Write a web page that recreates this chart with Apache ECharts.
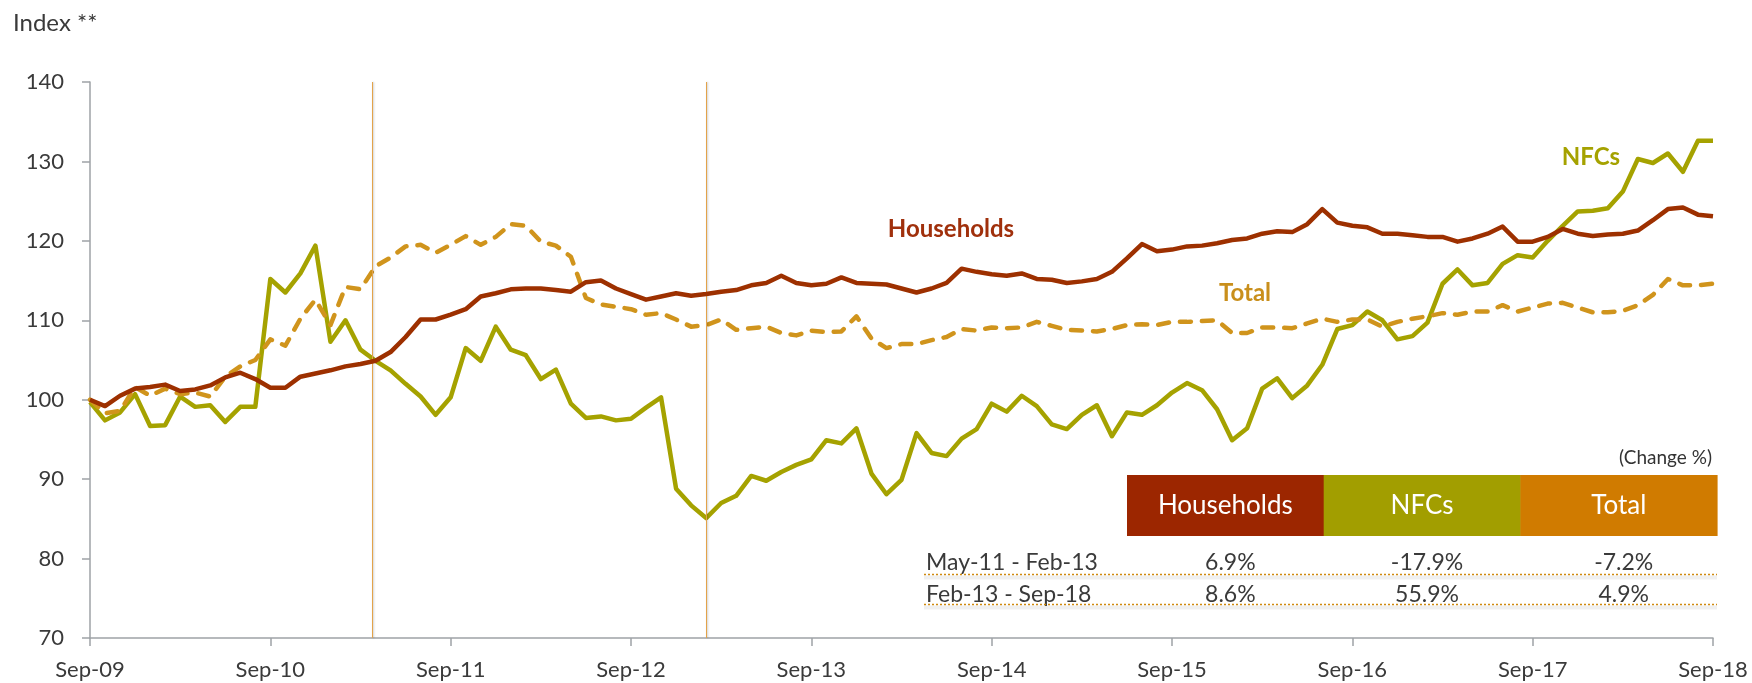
<!DOCTYPE html>
<html>
<head>
<meta charset="utf-8">
<script src="https://cdn.jsdelivr.net/npm/echarts@6/dist/echarts.min.js"></script>
<style>
html,body{margin:0;padding:0;background:#ffffff;}
#chart{width:1752px;height:683px;}
</style>
</head>
<body>
<div id="chart"></div>
<script>
// ---- Data (monthly index, Sep-09 = 100) ----
const tickLabels = ['Sep-09','Sep-10','Sep-11','Sep-12','Sep-13','Sep-14','Sep-15','Sep-16','Sep-17','Sep-18'];

const households = [
  100.0, 99.2,100.5,101.4,101.6,101.9,101.1,101.3,101.8,102.8,103.4,102.6,
  101.5,101.5,102.9,103.3,103.7,104.2,104.5,104.9,106.0,107.9,110.1,110.1,
  110.7,111.4,113.0,113.4,113.9,114.0,114.0,113.8,113.6,114.8,115.0,114.0,
  113.3,112.6,113.0,113.4,113.1,113.3,113.6,113.8,114.4,114.7,115.6,114.7,
  114.4,114.6,115.4,114.7,114.6,114.5,114.0,113.5,114.0,114.7,116.5,116.1,
  115.8,115.6,115.9,115.2,115.1,114.7,114.9,115.2,116.1,117.8,119.6,118.7,
  118.9,119.3,119.4,119.7,120.1,120.3,120.9,121.2,121.1,122.1,124.0,122.3,
  121.9,121.7,120.9,120.9,120.7,120.5,120.5,119.9,120.3,120.9,121.8,119.9,
  119.9,120.5,121.5,120.9,120.6,120.8,120.9,121.3,122.6,124.0,124.2,123.3,
  123.1
];

const nfcs = [
   99.7, 97.4, 98.4,100.7, 96.7, 96.8,100.4, 99.1, 99.3, 97.2, 99.1, 99.1,
  115.2,113.5,115.9,119.4,107.3,110.0,106.3,104.9,103.7,102.0,100.4, 98.1,
  100.3,106.5,104.9,109.2,106.3,105.6,102.6,103.8, 99.5, 97.7, 97.9, 97.4,
   97.6, 99.0,100.3, 88.8, 86.7, 85.1, 87.0, 87.9, 90.4, 89.8, 90.9, 91.8,
   92.5, 94.9, 94.5, 96.4, 90.7, 88.1, 89.9, 95.8, 93.3, 92.9, 95.1, 96.3,
   99.5, 98.5,100.5, 99.2, 96.9, 96.3, 98.1, 99.3, 95.4, 98.4, 98.1, 99.3,
  100.9,102.1,101.2, 98.8, 94.9, 96.4,101.4,102.7,100.2,101.8,104.4,108.9,
  109.4,111.1,110.0,107.6,108.0,109.7,114.6,116.4,114.4,114.7,117.1,118.2,
  117.9,120.0,121.9,123.7,123.8,124.1,126.2,130.3,129.8,131.0,128.7,132.6,
  132.6
];

const total = [
  100.0, 98.3, 98.6,101.6,100.5,101.4,100.7,100.9,100.4,102.9,104.2,105.0,
  107.6,106.8,110.2,112.6,109.4,114.2,113.9,116.8,117.9,119.3,119.5,118.5,
  119.5,120.6,119.5,120.5,122.1,121.9,119.9,119.4,118.0,112.8,112.0,111.7,
  111.4,110.7,110.9,110.1,109.2,109.4,110.1,108.8,109.0,109.2,108.4,108.1,
  108.7,108.5,108.6,110.5,107.7,106.5,107.0,107.0,107.5,107.9,108.9,108.7,
  109.1,109.0,109.1,109.8,109.3,108.8,108.7,108.6,108.9,109.4,109.5,109.4,
  109.8,109.8,109.9,110.0,108.4,108.4,109.1,109.1,109.0,109.6,110.2,109.8,
  110.1,110.1,109.2,109.8,110.2,110.5,110.9,110.7,111.1,111.1,111.9,111.1,
  111.6,112.1,112.2,111.6,111.0,111.0,111.2,111.9,113.2,115.2,114.4,114.4,
  114.6
];

// Vertical period markers (month index from Sep-09)
const periodMarkers = [18.75, 41];

// Inset table
const tableColumns = ['Households', 'NFCs', 'Total'];
const tablePeriods = ['May-11 - Feb-13', 'Feb-13 - Sep-18'];
const tableHouseholds = [6.9, 8.6];
const tableNfcs = [-17.9, 55.9];
const tableTotal = [-7.2, 4.9];

// ---- Styling ----
const FONT = 'Lato, "Open Sans", "Noto Sans", sans-serif';
const TEXT = '#3a3a3a';
const AXIS = '#9ea2a6';
const C_HH = '#9d3000';
const C_NFC = '#a5a200';
const C_TOT = '#d0941c';
const HDR = ['#9c2600', '#a29e00', '#d07b00'];

const toPairs = arr => arr.map((v, i) => [i, v]);

const chart = echarts.init(document.getElementById('chart'), null, {renderer: 'canvas'});

// table graphics
const tbl = {left: 1127, colW: 196.7, top: 475, h: 61, rowLeft: 924, right: 1717};
const tableValues = [tableHouseholds, tableNfcs, tableTotal];
const graphics = [];

graphics.push({
  type: 'text', x: 13, y: 23, z: 10,
  style: {text: 'Index **', font: '24px ' + FONT, fill: TEXT, align: 'left', verticalAlign: 'middle', textAlign: 'left', textVerticalAlign: 'middle'}
});

// series labels
const seriesLabels = [
  {text: 'Households', x: 951, y: 229, color: '#a0300c'},
  {text: 'Total', x: 1245, y: 293, color: '#c98f1c'},
  {text: 'NFCs', x: 1591, y: 157, color: C_NFC}
];
seriesLabels.forEach(l => graphics.push({
  type: 'text', x: l.x, y: l.y, z: 10,
  style: {text: l.text, font: 'bold 24px ' + FONT, fill: l.color, align: 'center', verticalAlign: 'middle', textAlign: 'center', textVerticalAlign: 'middle'}
}));

graphics.push({
  type: 'text', x: 1712, y: 458, z: 10,
  style: {text: '(Change %)', font: '19px ' + FONT, fill: '#333333', align: 'right', verticalAlign: 'middle', textAlign: 'right', textVerticalAlign: 'middle'}
});

tableColumns.forEach((name, i) => {
  const x = tbl.left + i * tbl.colW;
  graphics.push({type: 'rect', z: 10, shape: {x: x, y: tbl.top, width: tbl.colW + 0.5, height: tbl.h}, style: {fill: HDR[i]}});
  graphics.push({
    type: 'text', z: 11, x: x + tbl.colW / 2, y: tbl.top + tbl.h / 2,
    style: {text: name, font: '26px ' + FONT, fill: '#ffffff', align: 'center', verticalAlign: 'middle', textAlign: 'center', textVerticalAlign: 'middle'}
  });
});

const rowY = [563, 595];
const lineY = [574.5, 604.5];
tablePeriods.forEach((p, r) => {
  graphics.push({type: 'text', z: 10, x: tbl.rowLeft + 2, y: rowY[r],
    style: {text: p, font: '23px ' + FONT, fill: TEXT, align: 'left', verticalAlign: 'middle', textAlign: 'left', textVerticalAlign: 'middle'}});
  tableValues.forEach((vals, i) => {
    graphics.push({type: 'text', z: 10, x: tbl.left + i * tbl.colW + tbl.colW / 2 + 5, y: rowY[r],
      style: {text: vals[r].toFixed(1) + '%', font: '23px ' + FONT, fill: TEXT, align: 'center', verticalAlign: 'middle', textAlign: 'center', textVerticalAlign: 'middle'}});
  });
  graphics.push({type: 'line', z: 9, shape: {x1: tbl.rowLeft, y1: lineY[r] + 3, x2: tbl.right, y2: lineY[r] + 3},
    style: {stroke: 'rgba(0,0,0,0.06)', lineWidth: 4}});
  graphics.push({type: 'line', z: 10, shape: {x1: tbl.rowLeft, y1: lineY[r], x2: tbl.right, y2: lineY[r]},
    style: {stroke: '#d08a10', lineWidth: 1.5, lineDash: [2, 2]}});
});

const option = {
  animation: false,
  backgroundColor: '#ffffff',
  grid: {left: 90, right: 39, top: 82, bottom: 45, containLabel: false, outerBoundsMode: 'none'},
  xAxis: {
    type: 'value', min: 0, max: 108, interval: 12,
    axisLine: {show: true, lineStyle: {color: AXIS, width: 1.5}},
    axisTick: {show: true, length: 8, lineStyle: {color: AXIS, width: 1.5}},
    axisLabel: {formatter: v => tickLabels[Math.round(v / 12)] || '', fontFamily: FONT, fontSize: 22, color: TEXT, margin: 21},
    splitLine: {show: false}
  },
  yAxis: {
    type: 'value', min: 70, max: 140, interval: 10,
    axisLine: {show: true, lineStyle: {color: AXIS, width: 1.5}},
    axisTick: {show: true, length: 8, lineStyle: {color: AXIS, width: 1.5}},
    axisLabel: {fontFamily: FONT, fontSize: 22, color: TEXT, margin: 26},
    splitLine: {show: false}
  },
  graphic: graphics,
  series: [
    {
      type: 'line', name: 'markers', data: [], z: 1, silent: true,
      markLine: {
        silent: true, symbol: 'none', animation: false,
        label: {show: false},
        lineStyle: {color: '#e3a34a', width: 1, type: 'solid', shadowColor: 'rgba(0,0,0,0.25)', shadowBlur: 2, shadowOffsetX: 1},
        data: periodMarkers.map(v => ({xAxis: v}))
      }
    },
    {
      type: 'line', name: 'NFCs', data: toPairs(nfcs), z: 3,
      showSymbol: false, symbol: 'none',
      lineStyle: {color: C_NFC, width: 4.5, join: 'round'}
    },
    {
      type: 'line', name: 'Total', data: toPairs(total), z: 4,
      showSymbol: false, symbol: 'none',
      lineStyle: {color: C_TOT, width: 4.5, type: [11, 11], cap: 'round', join: 'round'}
    },
    {
      type: 'line', name: 'Households', data: toPairs(households), z: 5,
      showSymbol: false, symbol: 'none',
      lineStyle: {color: C_HH, width: 4.5, join: 'round'}
    }
  ]
};
chart.setOption(option);
</script>
</body>
</html>
